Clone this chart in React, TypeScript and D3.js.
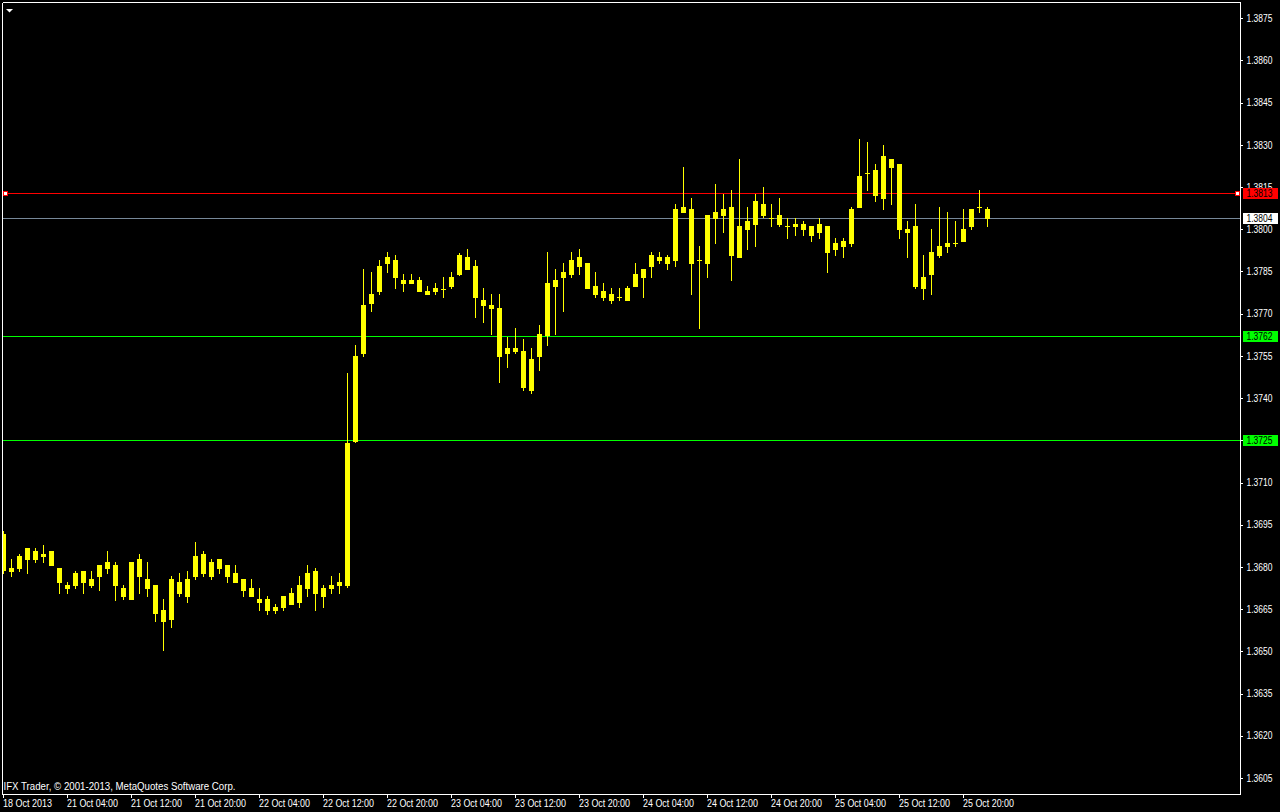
import * as d3 from "d3"

// EURUSD H1 bars, 18 Oct 2013 20:00 .. 25 Oct 2013 23:00
const open = [
  1.36917, 1.36783, 1.36793, 1.36825, 1.36857, 1.36835, 1.36857, 1.36796, 1.36736, 1.36733,
  1.36785, 1.36732, 1.36765, 1.36794, 1.36807, 1.36725, 1.36683, 1.36828, 1.36757, 1.36736,
  1.36647, 1.36611, 1.36746, 1.36693, 1.36764, 1.36846, 1.36764, 1.36828, 1.36807, 1.36778,
  1.36757, 1.36725, 1.36686, 1.36686, 1.36643, 1.36654, 1.36707, 1.36672, 1.36721, 1.36785,
  1.36693, 1.36721, 1.36732, 1.36732, 1.37245, 1.37557, 1.37734, 1.37777, 1.37877, 1.37891,
  1.3782, 1.37806, 1.3782, 1.37781, 1.37777, 1.37789, 1.37795, 1.37838, 1.37902, 1.3787,
  1.37749, 1.37731, 1.3772, 1.37557, 1.37578, 1.37567, 1.37425, 1.37546, 1.37621, 1.37795,
  1.37827, 1.37838, 1.37902, 1.3788, 1.37798, 1.37781, 1.3777, 1.37759, 1.37745, 1.37795,
  1.37827, 1.37866, 1.37902, 1.37877, 1.37887, 1.38079, 1.38072, 1.37891, 1.37877, 1.38061,
  1.38047, 1.38079, 1.37898, 1.37998, 1.38015, 1.3809, 1.3804, 1.38051, 1.38012, 1.38008,
  1.38019, 1.38012, 1.37987, 1.38012, 1.37926, 1.37958, 1.37948, 1.38076, 1.382, 1.38211,
  1.38108, 1.3825, 1.38232, 1.38001, 1.38012, 1.37788, 1.37838, 1.37905, 1.37937, 1.37951,
  1.37955, 1.38008, 1.38079, 1.38072,
]
const high = [
  1.36928, 1.36828, 1.36846, 1.36867, 1.36867, 1.36878, 1.36857, 1.36796, 1.36746, 1.36785,
  1.36785, 1.36785, 1.36807, 1.36857, 1.36817, 1.36736, 1.36817, 1.36846, 1.36817, 1.36736,
  1.36686, 1.36768, 1.36778, 1.36785, 1.36889, 1.36857, 1.36828, 1.36828, 1.36807, 1.36807,
  1.36757, 1.36757, 1.36725, 1.36697, 1.36668, 1.36697, 1.36725, 1.36768, 1.36807, 1.36796,
  1.36736, 1.36768, 1.36778, 1.37489, 1.37589, 1.37859, 1.37848, 1.37891, 1.37919, 1.37909,
  1.37841, 1.37841, 1.3783, 1.37798, 1.37809, 1.3783, 1.37848, 1.37916, 1.3793, 1.37891,
  1.37791, 1.3777, 1.3777, 1.37617, 1.37649, 1.3761, 1.37578, 1.3766, 1.37919, 1.37859,
  1.3788, 1.37919, 1.3793, 1.3788, 1.37848, 1.37809, 1.37791, 1.37791, 1.37798, 1.3788,
  1.37859, 1.37919, 1.37919, 1.37909, 1.3809, 1.38221, 1.38111, 1.37941, 1.38051, 1.38161,
  1.38125, 1.3814, 1.3825, 1.38079, 1.38125, 1.3815, 1.3809, 1.38111, 1.3804, 1.3804,
  1.3803, 1.38012, 1.3804, 1.38012, 1.37969, 1.37969, 1.38079, 1.38321, 1.3831, 1.38232,
  1.383, 1.3825, 1.38232, 1.3803, 1.3809, 1.37909, 1.38001, 1.38079, 1.38061, 1.3803,
  1.38072, 1.38072, 1.3814, 1.38079,
]
const low = [
  1.36775, 1.36765, 1.36783, 1.36776, 1.36815, 1.36815, 1.36804, 1.36705, 1.36705, 1.36723,
  1.36705, 1.36724, 1.36715, 1.36776, 1.36679, 1.36682, 1.36683, 1.36704, 1.36694, 1.36604,
  1.36502, 1.36584, 1.36694, 1.36673, 1.36753, 1.36764, 1.36753, 1.36775, 1.36744, 1.36743,
  1.36694, 1.36693, 1.36643, 1.36629, 1.36633, 1.36643, 1.36665, 1.36654, 1.36693, 1.36643,
  1.36654, 1.36704, 1.36704, 1.36725, 1.3724, 1.37546, 1.37706, 1.37766, 1.37845, 1.37788,
  1.37777, 1.37806, 1.37777, 1.37766, 1.37766, 1.37756, 1.37788, 1.37834, 1.37855, 1.37685,
  1.37667, 1.37624, 1.37454, 1.37507, 1.37557, 1.37425, 1.37415, 1.37496, 1.37585, 1.37624,
  1.37706, 1.37827, 1.37838, 1.37788, 1.37756, 1.37745, 1.37734, 1.37745, 1.37745, 1.37795,
  1.37756, 1.37827, 1.37877, 1.37855, 1.37866, 1.38058, 1.37766, 1.37646, 1.37827, 1.37948,
  1.37987, 1.37816, 1.37898, 1.37926, 1.37937, 1.3804, 1.38008, 1.38008, 1.37966, 1.37976,
  1.37976, 1.37955, 1.37966, 1.37845, 1.37905, 1.37898, 1.37937, 1.38076, 1.38136, 1.38097,
  1.38069, 1.38086, 1.37966, 1.37898, 1.37788, 1.37749, 1.37766, 1.37898, 1.37916, 1.37937,
  1.37955, 1.37998, 1.38058, 1.38008,
]
const close = [
  1.36784, 1.36797, 1.36839, 1.36867, 1.36825, 1.36846, 1.36804, 1.36744, 1.36721, 1.36778,
  1.36743, 1.36758, 1.36807, 1.36817, 1.36732, 1.36694, 1.36817, 1.36764, 1.36723, 1.36633,
  1.36604, 1.36757, 1.36704, 1.36757, 1.36839, 1.36775, 1.36817, 1.36793, 1.36764, 1.36743,
  1.36714, 1.36693, 1.36672, 1.36643, 1.36657, 1.36697, 1.36665, 1.36736, 1.36778, 1.36704,
  1.36725, 1.36736, 1.36746, 1.3724, 1.3755, 1.37731, 1.3777, 1.3787, 1.37902, 1.37827,
  1.37806, 1.3782, 1.37777, 1.37766, 1.37791, 1.37789, 1.3783, 1.37909, 1.37855, 1.37756,
  1.37727, 1.37717, 1.37546, 1.37578, 1.37564, 1.37436, 1.37539, 1.37628, 1.37809, 1.3782,
  1.37848, 1.37891, 1.37866, 1.37788, 1.37766, 1.37756, 1.37745, 1.37759, 1.37791, 1.37841,
  1.37859, 1.37909, 1.37887, 1.37902, 1.38072, 1.38058, 1.37877, 1.37891, 1.38051, 1.38037,
  1.38072, 1.37905, 1.38012, 1.3803, 1.38101, 1.38047, 1.3804, 1.38015, 1.38012, 1.38019,
  1.37998, 1.37976, 1.38019, 1.37916, 1.37951, 1.37937, 1.38072, 1.38189, 1.382, 1.38118,
  1.38261, 1.38218, 1.37998, 1.37987, 1.37795, 1.3783, 1.37919, 1.37941, 1.37951, 1.37951,
  1.38001, 1.38072, 1.38079, 1.38037,
]

// time axis labels and the bar they sit on
const timeLabels = [
  "18 Oct 2013", "21 Oct 04:00", "21 Oct 12:00", "21 Oct 20:00", "22 Oct 04:00",
  "22 Oct 12:00", "22 Oct 20:00", "23 Oct 04:00", "23 Oct 12:00", "23 Oct 20:00",
  "24 Oct 04:00", "24 Oct 12:00", "24 Oct 20:00", "25 Oct 04:00", "25 Oct 12:00",
  "25 Oct 20:00",
]
const timeLabelBars = [0, 8, 16, 24, 32, 40, 48, 56, 64, 72, 80, 88, 96, 104, 112, 120]

const priceTicks = d3.range(19).map((i) => 1.3605 + i * 0.0015)

// horizontal lines: value, color, label background
const hLines = [
  { value: 1.3813, color: "#ff0000", box: "#ff0000" },
  { value: 1.3804, color: "#778899", box: "#ffffff" },
  { value: 1.3762, color: "#00ff00", box: "#00ff00" },
  { value: 1.3725, color: "#00ff00", box: "#00ff00" },
]

const W = 1280
const H = 812
const plotRight = 1240
const plotBottom = 794
const font = "'Liberation Sans', Arial, sans-serif"

export default function App() {
  const x = d3.scaleLinear().domain([0, 123]).range([3, 987])
  const y = d3.scaleLinear().domain([1.3605, 1.3875]).range([777.9, 18.3])

  const bars = open.map((o, i) => {
    const c = close[i]
    const top = Math.round(y(Math.max(o, c)))
    const bot = Math.round(y(Math.min(o, c)))
    const hi = Math.round(y(high[i]))
    const lo = Math.round(y(low[i]))
    return { i, top, bot, hi, lo }
  })

  return (
    <svg
      width={W}
      height={H}
      style={{ position: "fixed", left: 0, top: 0, display: "block", background: "#000" }}
      shapeRendering="crispEdges"
    >
      <rect x={0} y={0} width={W} height={H} fill="#000" />
      <defs>
        <clipPath id="plot">
          <rect x={3} y={3} width={plotRight - 3} height={plotBottom - 3} />
        </clipPath>
      </defs>

      {/* frame */}
      <line x1={2.5} y1={2.5} x2={plotRight + 0.5} y2={2.5} stroke="#fff" />
      <line x1={2.5} y1={2.5} x2={2.5} y2={plotBottom + 0.5} stroke="#fff" />
      <line x1={plotRight + 0.5} y1={2.5} x2={plotRight + 0.5} y2={plotBottom + 0.5} stroke="#fff" />
      <line x1={2.5} y1={plotBottom + 0.5} x2={plotRight + 0.5} y2={plotBottom + 0.5} stroke="#fff" />

      {/* horizontal lines */}
      <g clipPath="url(#plot)">
        {hLines.map((l) => (
          <line
            key={l.value}
            x1={3}
            x2={plotRight}
            y1={Math.round(y(l.value)) + 0.5}
            y2={Math.round(y(l.value)) + 0.5}
            stroke={l.color}
          />
        ))}
        {/* candles */}
        {bars.map((b) => (
          <g key={b.i} fill="#ffff00">
            <rect x={x(b.i)} y={b.hi} width={1} height={Math.max(1, b.lo - b.hi)} />
            <rect x={x(b.i) - 2} y={b.top} width={5} height={Math.max(1, b.bot - b.top)} />
          </g>
        ))}
      </g>

      {/* selected line markers */}
      {[5, 1237].map((mx) => (
        <rect
          key={mx}
          x={mx - 2 + 0.5}
          y={Math.round(y(1.3813)) - 2 + 0.5}
          width={4}
          height={4}
          fill="#fff"
          stroke="#ff0000"
        />
      ))}

      {/* price axis */}
      {priceTicks.map((v) => (
        <g key={v}>
          <line
            x1={plotRight}
            x2={plotRight + 3}
            y1={Math.round(y(v)) + 0.5}
            y2={Math.round(y(v)) + 0.5}
            stroke="#fff"
          />
          <text
            x={1246.5}
            y={y(v) + 3.6}
            fill="#fff"
            fontFamily={font}
            fontSize={10}
            textLength={26}
            lengthAdjust="spacingAndGlyphs"
          >
            {v.toFixed(4)}
          </text>
        </g>
      ))}

      {/* line price labels */}
      {hLines.map((l) => {
        const cy = Math.round(y(l.value))
        return (
          <g key={"lbl" + l.value}>
            <rect x={1243} y={cy - 5} width={35} height={11} fill={l.box} />
            <text
              x={1246.5}
              y={cy + 4}
              fill="#000"
              fontFamily={font}
              fontSize={10}
              textLength={26}
              lengthAdjust="spacingAndGlyphs"
            >
              {l.value.toFixed(4)}
            </text>
          </g>
        )
      })}

      {/* time axis */}
      {timeLabels.map((t, j) => {
        const tx = x(timeLabelBars[j])
        return (
          <g key={t}>
            <line x1={tx + 0.5} x2={tx + 0.5} y1={plotBottom} y2={plotBottom + 4} stroke="#fff" />
            <text
              x={tx}
              y={806.5}
              fill="#fff"
              fontFamily={font}
              fontSize={10}
              textLength={j === 0 ? 49 : 51}
              lengthAdjust="spacingAndGlyphs"
            >
              {t}
            </text>
          </g>
        )
      })}

      {/* copyright */}
      <text
        x={3.5}
        y={790}
        fill="#fff"
        fontFamily={font}
        fontSize={10}
        textLength={232}
        lengthAdjust="spacingAndGlyphs"
      >
        IFX Trader, © 2001-2013, MetaQuotes Software Corp.
      </text>

      {/* one-click trading triangle */}
      <polygon points="6,9 13,9 9.5,12.5" fill="#fff" shapeRendering="auto" />
    </svg>
  )
}
